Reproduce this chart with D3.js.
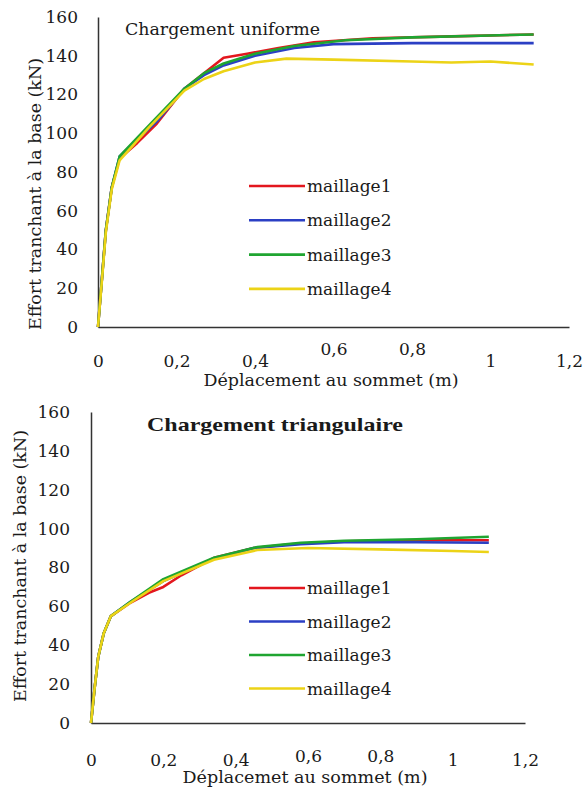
<!DOCTYPE html>
<html>
<head>
<meta charset="utf-8">
<script src="https://cdn.jsdelivr.net/npm/d3@7"></script>
<style>
  html, body { margin: 0; padding: 0; background: #fff; }
  svg { display: block; }
  text { fill: #1a1a1a; }
</style>
</head>
<body>
<svg id="chart" width="586" height="787"></svg>
<script>
// Shared axis ticks
const xTicks = [0, 0.2, 0.4, 0.6, 0.8, 1, 1.2];
const yTicks = [0, 20, 40, 60, 80, 100, 120, 140, 160];

// Mesh series
const seriesNames = ["maillage1", "maillage2", "maillage3", "maillage4"];
const seriesColors = ["#e3171e", "#2b3fc4", "#1fa531", "#ecd317"];

// Uniform loading: [top displacement (m), base shear (kN)]
const uniformM1 = [[0,0],[0.01,25],[0.02,50],[0.035,72],[0.055,87],[0.1,95],[0.15,105],[0.22,123],[0.27,131],[0.32,139],[0.38,141],[0.46,144],[0.55,147],[0.7,149],[0.9,150],[1.11,151]];
const uniformM2 = [[0,0],[0.01,25],[0.02,50],[0.035,72],[0.055,88],[0.1,97],[0.15,106],[0.22,123],[0.27,130],[0.32,135],[0.4,140],[0.5,144],[0.6,146],[0.8,146.5],[1.11,146.5]];
const uniformM3 = [[0,0],[0.01,25],[0.02,50],[0.035,72],[0.055,88],[0.13,104],[0.22,123],[0.27,131],[0.32,136],[0.4,141],[0.5,145],[0.63,148],[0.8,149.5],[1.11,151]];
const uniformM4 = [[0,0],[0.01,24],[0.02,49],[0.035,71],[0.055,86],[0.13,103],[0.22,122],[0.27,128],[0.32,132],[0.4,136.5],[0.48,138.5],[0.6,138],[0.8,137],[0.9,136.5],[1.0,137],[1.11,135.5]];

// Triangular loading: [top displacement (m), base shear (kN)]
const triangM1 = [[0,0],[0.01,18],[0.02,34],[0.035,46],[0.055,55],[0.11,62],[0.16,67],[0.2,70],[0.25,76],[0.34,85],[0.45,90],[0.55,92],[0.7,93.5],[0.9,94],[1.1,94]];
const triangM2 = [[0,0],[0.01,18],[0.02,34],[0.035,46],[0.055,55],[0.11,62.5],[0.2,73],[0.34,84.5],[0.45,90],[0.58,92],[0.7,93],[0.9,93],[1.1,92.7]];
const triangM3 = [[0,0],[0.01,18],[0.02,34],[0.035,46],[0.055,55],[0.11,62.5],[0.2,74],[0.34,85],[0.46,90.5],[0.58,92.7],[0.7,93.8],[0.9,94.5],[1.1,95.8]];
const triangM4 = [[0,0],[0.01,18],[0.02,34],[0.035,46],[0.055,55],[0.11,62],[0.2,73],[0.34,84],[0.46,89],[0.6,90],[0.8,89.3],[1.0,88.5],[1.1,88]];

const FONT = "'DejaVu Serif', 'Liberation Serif', serif";
const svg = d3.select("#chart");
const fmt = d => String(d).replace(".", ",");

function drawPanel(p) {
  const g = svg.append("g");
  const x = d3.scaleLinear().domain([0, 1.2]).range([p.left, p.right]);
  const y = d3.scaleLinear().domain([0, 160]).range([p.bottom, p.top]);

  // Y axis
  const ya = g.append("g")
    .attr("transform", `translate(${p.left},0)`)
    .call(d3.axisLeft(y).tickValues(yTicks).tickSize(0).tickSizeOuter(0).tickPadding(p.yPad));
  ya.select(".domain").attr("stroke", "#333").attr("stroke-width", 1.5);
  ya.selectAll("text").attr("font-family", FONT).attr("font-size", 17).attr("fill", "#1a1a1a");

  // X axis
  const xa = g.append("g")
    .attr("transform", `translate(0,${p.bottom})`)
    .call(d3.axisBottom(x).tickValues(xTicks).tickFormat(fmt).tickSize(0).tickSizeOuter(0).tickPadding(p.xPad));
  xa.select(".domain").attr("stroke", "#333").attr("stroke-width", 1.5);
  xa.selectAll("text").attr("font-family", FONT).attr("font-size", 17).attr("fill", "#1a1a1a")
    .attr("transform", d => (d === 0.6 || d === 0.8) ? `translate(0,${-p.raise})` : null);

  // Curves
  const line = d3.line().x(d => x(d[0])).y(d => y(d[1]));
  p.series.forEach((s, i) => {
    g.append("path").datum(s)
      .attr("d", line)
      .attr("fill", "none")
      .attr("stroke", seriesColors[i])
      .attr("stroke-width", 2.6)
      .attr("stroke-linejoin", "round");
  });

  // Legend
  seriesNames.forEach((name, i) => {
    const ly = p.legendY + i * p.legendStep;
    g.append("line")
      .attr("x1", 249).attr("x2", 305).attr("y1", ly).attr("y2", ly)
      .attr("stroke", seriesColors[i]).attr("stroke-width", 2.6);
    g.append("text")
      .attr("x", 307).attr("y", ly + 6)
      .attr("font-family", FONT).attr("font-size", 17)
      .text(name);
  });

  // Title
  g.append("text")
    .attr("x", p.titleX).attr("y", p.titleY)
    .attr("font-family", p.titleBold ? "'Liberation Serif', serif" : FONT)
    .attr("font-weight", p.titleBold ? "bold" : "normal")
    .attr("font-size", p.titleSize)
    .attr("textLength", p.titleLen).attr("lengthAdjust", "spacingAndGlyphs")
    .text(p.title);

  // Axis titles
  g.append("text")
    .attr("x", p.xTitleX).attr("y", p.xTitleY)
    .attr("text-anchor", "middle")
    .attr("font-family", FONT).attr("font-size", 16)
    .attr("textLength", p.xTitleLen).attr("lengthAdjust", "spacingAndGlyphs")
    .text(p.xTitle);
  g.append("text")
    .attr("transform", `translate(${p.yTitleX},${p.yTitleY}) rotate(-90)`)
    .attr("text-anchor", "middle")
    .attr("font-family", FONT).attr("font-size", 16)
    .attr("textLength", 272).attr("lengthAdjust", "spacingAndGlyphs")
    .text("Effort tranchant à la base (kN)");
}

drawPanel({
  left: 98, right: 569, top: 17, bottom: 327,
  yPad: 20, xPad: 28, raise: 12,
  series: [uniformM1, uniformM2, uniformM3, uniformM4],
  legendY: 186, legendStep: 34.3,
  title: "Chargement uniforme", titleX: 125, titleY: 35, titleSize: 17, titleLen: 195, titleBold: false,
  xTitle: "Déplacement au sommet (m)", xTitleX: 331, xTitleY: 386, xTitleLen: 255,
  yTitleX: 41, yTitleY: 194
});

drawPanel({
  left: 91, right: 525, top: 412, bottom: 723,
  yPad: 21, xPad: 31, raise: 4,
  series: [triangM1, triangM2, triangM3, triangM4],
  legendY: 588, legendStep: 33.5,
  title: "Chargement triangulaire", titleX: 147, titleY: 431, titleSize: 19, titleLen: 256, titleBold: true,
  xTitle: "Déplacemet au sommet (m)", xTitleX: 305, xTitleY: 783, xTitleLen: 245,
  yTitleX: 26, yTitleY: 566
});
</script>
</body>
</html>
